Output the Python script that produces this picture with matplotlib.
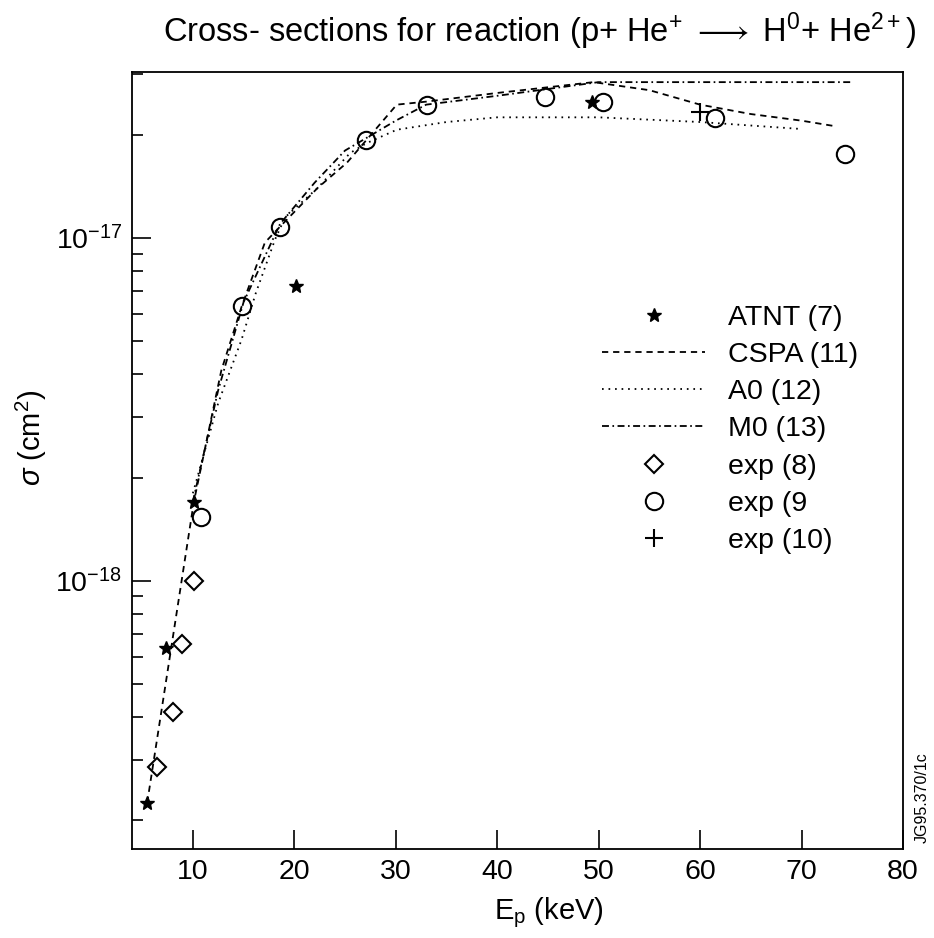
import numpy as np
import matplotlib
matplotlib.use("Agg")
import matplotlib.pyplot as plt

plt.rcParams['font.family'] = ['Liberation Sans', 'DejaVu Sans']
plt.rcParams['mathtext.fontset'] = 'custom'
plt.rcParams['mathtext.rm'] = 'Liberation Sans'
plt.rcParams['mathtext.it'] = 'Liberation Sans:italic'
plt.rcParams['lines.scale_dashes'] = False

# theory curves
cspa_e = [5.5, 10.1, 12.8, 14.8, 17.1, 18.6, 22.3, 25.2, 27.1, 30.1, 33.0, 40.0, 49.5, 55.0, 60.0, 65.0, 70.0, 73.3]
cspa_s = [2.25e-19, 1.7e-18, 4.1e-18, 6.3e-18, 9.7e-18, 1.08e-17, 1.4e-17, 1.66e-17, 1.93e-17, 2.45e-17,
          2.5e-17, 2.65e-17, 2.85e-17, 2.7e-17, 2.45e-17, 2.3e-17, 2.2e-17, 2.12e-17]

a0_e = [10.0, 12.5, 14.8, 16.2, 18.1, 19.1, 22.3, 25.5, 27.1, 30.1, 35.0, 40.0, 50.0, 60.0, 70.0]
a0_s = [1.8e-18, 3.3e-18, 5.05e-18, 6.9e-18, 9.9e-18, 1.15e-17, 1.4e-17, 1.77e-17, 1.89e-17, 2.07e-17,
        2.18e-17, 2.25e-17, 2.25e-17, 2.18e-17, 2.08e-17]

m0_e = [10.0, 12.5, 15.0, 18.6, 22.0, 25.0, 27.0, 30.0, 33.0, 40.0, 50.0, 75.0]
m0_s = [1.7e-18, 3.6e-18, 6.5e-18, 1.1e-17, 1.45e-17, 1.8e-17, 1.95e-17, 2.2e-17, 2.45e-17, 2.6e-17, 2.85e-17, 2.85e-17]

# data points
atnt_e = [5.5, 7.36, 10.1, 20.16, 49.35]
atnt_s = [2.25e-19, 6.38e-19, 1.7e-18, 7.24e-18, 2.49e-17]

exp8_e = [6.48, 8.05, 8.93, 10.1]
exp8_s = [2.87e-19, 4.15e-19, 6.55e-19, 1.0e-18]

exp9_e = [10.8, 14.8, 18.6, 27.1, 33.1, 44.7, 50.4, 61.5, 74.3]
exp9_s = [1.53e-18, 6.33e-18, 1.08e-17, 1.93e-17, 2.44e-17, 2.58e-17, 2.49e-17, 2.24e-17, 1.76e-17]

exp10_e = [60.0]
exp10_s = [2.33e-17]

fig = plt.figure(figsize=(9.34, 9.38), dpi=100)
ax = fig.add_axes([0.1413, 0.0949, 0.8255, 0.8283])

ax.plot(atnt_e, atnt_s, ls='none', marker='*', ms=10, color='k', label='ATNT (7)')
ax.plot(cspa_e, cspa_s, color='k', lw=1.3, dashes=(4.5, 3.5), label='CSPA (11)')
ax.plot(a0_e, a0_s, color='k', lw=1.3, dashes=(1.2, 3.5), label='A0 (12)')
ax.plot(m0_e, m0_s, color='k', lw=1.3, dashes=(5, 2.5, 1.2, 2.5), label='M0 (13)')
ax.plot(exp8_e, exp8_s, ls='none', marker='D', ms=9, mfc='none', mec='k', mew=1.5, label='exp (8)')
ax.plot(exp9_e, exp9_s, ls='none', marker='o', ms=12.5, mfc='none', mec='k', mew=1.5, label='exp (9')
ax.plot(exp10_e, exp10_s, ls='none', marker='+', ms=13, mec='k', mew=1.5, label='exp (10)')

ax.set_yscale('log')
ax.set_xlim(4, 80)
ax.set_ylim(1.65e-19, 3.05e-17)
ax.set_xticks([10, 20, 30, 40, 50, 60, 70, 80])
ax.set_yticks([1e-18, 1e-17])
ax.set_yticklabels([r'$10^{-18}$', r'$10^{-17}$'])
ax.tick_params(axis='both', which='both', direction='in', top=False, right=False,
               labelsize=20.5, width=1.2)
ax.tick_params(axis='both', which='major', length=14, pad=7)
ax.tick_params(axis='y', which='minor', length=8)
ax.tick_params(axis='x', which='minor', bottom=False)
for s in ax.spines.values():
    s.set_linewidth(1.3)

ax.set_xlabel(r'E$_{\rm p}$ (keV)', fontsize=21)
ax.xaxis.set_label_coords(0.541, -0.06)
ax.set_ylabel(r'$\sigma$ (cm$^2$)', fontsize=21)
ax.yaxis.set_label_coords(-0.108, 0.53)

fig.text(0.578, 0.967, r'Cross- sections for reaction (p+ He$^{+}$ $\longrightarrow$ H$^{0}$+ He$^{2+}$)',
         ha='center', va='center', fontsize=23.5)
fig.text(0.987, 0.15, 'JG95.370/1c', rotation=90, ha='center', va='center', fontsize=11.5)

ax.legend(loc='upper left', bbox_to_anchor=(0.61, 0.70), frameon=False, fontsize=20.5,
          handlelength=3.6, handletextpad=0.8, labelspacing=0.39, borderaxespad=0, borderpad=0)

fig.savefig('out.png', dpi=100)
